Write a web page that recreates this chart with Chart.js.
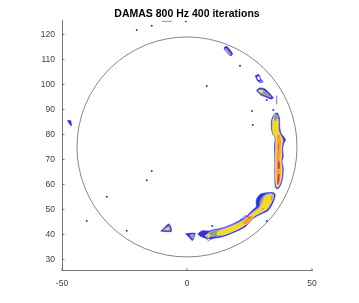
<!DOCTYPE html>
<html><head><meta charset="utf-8">
<script src="https://cdn.jsdelivr.net/npm/chart.js@4/dist/chart.umd.min.js"></script>
<style>html,body{margin:0;padding:0;background:#fff;}canvas{display:block;}</style>
</head><body>
<canvas id="c" width="359" height="303" style="width:359px;height:303px"></canvas>
<script>
// ---- data ----
const title = 'DAMAS 800 Hz 400 iterations';
const xRange = [-50, 50];
const yRange = [25.5, 125.5];
const xTicks = [-50, 0, 50];
const yTicks = [30, 40, 50, 60, 70, 80, 90, 100, 110, 120];
const circleCenter = [0, 75];
const circleRadius = 44;

// vertical source strip (right)
const vertBlue = [[35.3,88.5],[34.5,87.5],[33.8,85.5],[33.8,82],[34.4,80],[35.2,79],[35.0,75],[35.1,70],[35.1,64],[35.2,60],[35.7,58.4],[36.7,58.5],[37.7,60.5],[38.3,63],[38.5,66.5],[38.0,69.5],[38.5,71],[38.3,74],[38.7,76.5],[39.4,77.8],[38.6,79.2],[37.6,80.5],[37.1,83],[37.0,86.5],[36.2,88.5]];
const vertYellow = [[34.2,86],[34.1,82],[34.6,80],[35.4,79],[35.3,70],[35.4,61],[35.9,58.9],[36.6,59],[37.4,60.8],[37.9,63],[38.1,66.5],[37.7,69.5],[38.0,71.5],[37.9,74],[38.2,76.5],[38.4,77.8],[37.6,79.5],[36.9,81],[36.6,83.5],[36.6,86],[35.5,87.5]];
const vertGreyTop = [[35.0,88.2],[34.5,87],[35.2,85.2],[36.2,85.8],[36.3,87.6]];
const vertOrange = [[35.9,80.5],[35.7,75],[35.6,70],[35.7,62],[36.1,59.5],[36.8,59.8],[37.5,62.5],[37.7,66.5],[37.4,69.5],[37.6,72],[37.6,75],[37.8,77.5],[37.1,80]];
const vertRed1 = [[35.9,59.8],[36.7,60],[37.2,62.5],[37.0,64.5],[36.2,64.5]];
const vertRed2 = [[36.2,65.8],[37.2,66.2],[37.3,68.5],[36.7,70],[36.1,68.5]];
const vertRed3 = [[36.3,73.5],[36.9,73.8],[37.0,76.5],[36.5,77]];

// lower arc strip
const arcBlue = [[4.3,40.2],[5.5,39.2],[8.5,38.4],[13.9,39],[19.2,41],[23.2,43],[25.2,45],[27.2,46.9],[29.9,48.3],[32.5,49.6],[34.5,53],[35.3,55.8],[34.6,56.7],[31.9,56.7],[29.2,56],[27.7,53.8],[27.7,51.1],[26.4,49.9],[25.1,48.6],[23.2,46.7],[20.5,45.3],[17.9,44],[14.5,42.7],[11.2,42],[8.5,41.4],[5.9,41.4]];
const arcGrey = [[8.5,39.1],[13.9,39.5],[19.2,41.5],[23,43.5],[25,45.5],[27.2,47.4],[29.9,48.8],[32.2,50.1],[34,53.2],[34.7,55.8],[34.2,56.3],[32,56.2],[30.4,55.2],[29.4,53.5],[28.8,51],[26.8,49.4],[25.3,48.1],[23.2,46.2],[20.5,44.8],[17.9,43.6],[14.5,42.3],[11.2,41.6],[8.7,40.9]];
const arcYellow = [[12,39.9],[15,40],[19.2,41.7],[23,43.8],[25,45.8],[27.2,47.7],[29.9,49.1],[32,50.4],[33.7,53.3],[34.3,55.6],[33.5,55.9],[31.5,55.5],[30.2,53],[29.5,51],[27,49],[25.2,47.7],[23.2,45.9],[20.5,44.4],[18,43.2],[15.5,42.3],[13.5,41.6],[12.2,41]];
const arcYellow2 = [[7.2,39.4],[8.6,38.7],[9.4,39.6],[8.2,40.2]];
const arcOrange1 = [[22.2,43.9],[24,44.1],[26.6,46.6],[25.8,47.8],[23.6,46.3],[22.2,45.3]];
const arcOrange2 = [[7.6,39.3],[8.5,39],[8.8,39.6],[8.0,39.9]];
const arcOrange3 = [[33.1,53.3],[34.1,53.6],[34.5,55.6],[33.4,55.7]];
const arcOrange4 = [[29.5,49.3],[30.8,49.8],[30.6,50.8],[29.6,50.4]];

// small blobs
const blobABlue = [[15,115],[16,115.2],[18.2,112.4],[17.8,111.6],[17,111.7],[14.9,114.2]];
const blobAGrey = [[15.6,114.5],[17.5,112.2],[16.8,112],[15.3,114]];
const blobBBlue = [[27.3,103.5],[28.7,104],[29.5,102.2],[30.4,101],[29.5,100.7],[28.2,101.5]];
const blobBWhite = [[28,103],[28.7,103.2],[29.2,102],[28.6,101.8]];
const blobBYellow = [[29.4,101.5],[30,101.1],[29.6,100.9]];
const blobCBlue = [[27.8,97.6],[29,98.6],[31,98.3],[33,96.5],[34.5,94.6],[33.5,94.2],[31.5,95],[29.5,95.8]];
const blobCGrey = [[28.5,97.6],[30.5,97.7],[32.5,96.2],[33.6,94.9],[31.5,95.6],[29.5,96.4]];
const blobCYellow = [[28.5,97.6],[30,97.9],[30.5,97.2],[29.3,96.8]];
const blobDBlue = [[-47.8,85.5],[-46.6,85.6],[-46.2,83.4],[-46.8,84]];
const blobEBlue = [[-10.5,41.3],[-6.3,41.2],[-6.5,43.2],[-7.3,44.2],[-8.3,43.5]];
const blobEGrey = [[-9.5,41.8],[-6.9,41.7],[-7.1,43.3],[-8.2,42.8]];
const blobEYellow = [[-8.6,42.2],[-7.4,42],[-7.4,42.7]];
const blobFBlue = [[-0.6,40.3],[3.2,40.5],[3.0,39.3],[2.2,37.6],[1.0,38.7]];
const blobFGrey = [[1.2,39.8],[2.8,40],[2.2,38.3]];

// open contour lines
const lineV = [[6.5,39.2],[8.5,37.6],[10,38.2],[11.5,39.3]];
const lineTri = [[21.2,45.8],[23.5,47.6],[25.2,46.6]];
const lineTop = [[-10,125.3],[-6,125.3]];
const lineRight = [[35.9,92],[35.9,95.5]];

// isolated low-level specks
const specks = [[-20.1,121.8],[-14.1,123.5],[-0.5,125.3],[21.2,107.5],[7.9,99.4],[26.3,83.8],[26,89.4],[31.9,93.8],[34.5,89.8],[-14.1,65.4],[-16.1,61.7],[-32.1,55.1],[-40.1,45.4],[-24.1,41.5],[10.1,43.4],[31.9,45.4]];

// ---- styling ----
const BLUE = '#2f2fe4', GREY = '#9a9a80', YELLOW = '#f3dc12', ORANGE = '#f9a11a', RED = '#e2431c', WHITE = '#ffffff';
const toPts = a => a.map(p => ({x: p[0], y: p[1]}));
const closed = a => toPts(a.concat([a[0]]));

const layers = [
  [vertBlue, BLUE], [arcBlue, BLUE], [blobABlue, BLUE], [blobBBlue, BLUE], [blobCBlue, BLUE], [blobDBlue, BLUE], [blobEBlue, BLUE], [blobFBlue, BLUE],
  [arcGrey, GREY], [blobAGrey, GREY], [blobBWhite, WHITE], [blobCGrey, GREY], [blobEGrey, GREY], [blobFGrey, GREY],
  [vertYellow, YELLOW], [arcYellow, YELLOW], [arcYellow2, YELLOW], [blobBYellow, YELLOW], [blobCYellow, YELLOW], [blobEYellow, YELLOW],
  [vertGreyTop, GREY],
  [vertOrange, ORANGE], [arcOrange1, ORANGE], [arcOrange2, ORANGE], [arcOrange3, ORANGE], [arcOrange4, ORANGE],
  [vertRed1, RED], [vertRed2, RED], [vertRed3, RED]
];

const datasets = layers.map((l, i) => ({
  data: closed(l[0]),
  showLine: true,
  fill: 'shape',
  backgroundColor: l[1],
  borderColor: l[1] === BLUE ? BLUE : 'rgba(255,255,255,0.7)',
  borderWidth: l[1] === BLUE ? 0.6 : 0.5,
  pointRadius: 0,
  tension: 0.25,
  order: 100 - i
}));
[lineV, lineTri, lineTop, lineRight].forEach(a => datasets.push({
  data: toPts(a), showLine: true, fill: false, borderColor: BLUE, borderWidth: 0.7, pointRadius: 0, tension: 0, order: 2
}));
datasets.push({
  data: toPts(specks), showLine: false, pointRadius: 1, pointBorderWidth: 0, backgroundColor: BLUE, order: 1
});

const circlePlugin = {
  id: 'circle',
  beforeDatasetsDraw(chart) {
    const {ctx, scales: {x, y}} = chart;
    const cx = x.getPixelForValue(circleCenter[0]);
    const cy = y.getPixelForValue(circleCenter[1]);
    const r = x.getPixelForValue(circleCenter[0] + circleRadius) - cx;
    ctx.save();
    ctx.beginPath();
    ctx.arc(cx, cy, r, 0, Math.PI * 2);
    ctx.strokeStyle = '#666';
    ctx.lineWidth = 0.8;
    ctx.stroke();
    ctx.restore();
  }
};
const tickPlugin = {
  id: 'inticks',
  afterDraw(chart) {
    const {ctx, chartArea: a, scales: {x, y}} = chart;
    ctx.save();
    ctx.strokeStyle = '#555';
    ctx.lineWidth = 0.8;
    ctx.beginPath();
    yTicks.forEach(v => { const py = y.getPixelForValue(v); ctx.moveTo(a.left, py); ctx.lineTo(a.left + 2.5, py); });
    xTicks.forEach(v => { const px = x.getPixelForValue(v); ctx.moveTo(px, a.bottom); ctx.lineTo(px, a.bottom - 2.5); });
    ctx.stroke();
    ctx.restore();
  }
};

new Chart(document.getElementById('c'), {
  type: 'line',
  data: { datasets },
  options: {
    responsive: false,
    animation: false,
    events: [],
    layout: { padding: { left: 0, right: 47, top: 0, bottom: 0 } },
    plugins: {
      legend: { display: false },
      tooltip: { enabled: false },
      title: {
        display: true, text: title, color: '#000', fullSize: false,
        font: { family: 'Liberation Sans, Arial, sans-serif', size: 10.5, weight: 'bold' },
        padding: { top: 7.5, bottom: 0.6 }
      }
    },
    scales: {
      x: {
        type: 'linear', min: xRange[0], max: xRange[1],
        afterFit(s) { s.height = 32.3; },
        afterBuildTicks(s) { s.ticks = xTicks.map(v => ({ value: v })); },
        grid: { display: false, drawTicks: false },
        border: { display: true, color: '#555', width: 0.8 },
        ticks: { color: '#404040', padding: 8, maxRotation: 0, autoSkip: false,
          font: { family: 'Liberation Sans, Arial, sans-serif', size: 8.5 } }
      },
      y: {
        type: 'linear', min: yRange[0], max: yRange[1],
        afterFit(s) { s.width = 62; },
        afterBuildTicks(s) { s.ticks = yTicks.map(v => ({ value: v })); },
        grid: { display: false, drawTicks: false },
        border: { display: true, color: '#555', width: 0.8 },
        ticks: { color: '#404040', padding: 7, autoSkip: false,
          font: { family: 'Liberation Sans, Arial, sans-serif', size: 8.5 } }
      }
    }
  },
  plugins: [circlePlugin, tickPlugin]
});
</script>
</body></html>
